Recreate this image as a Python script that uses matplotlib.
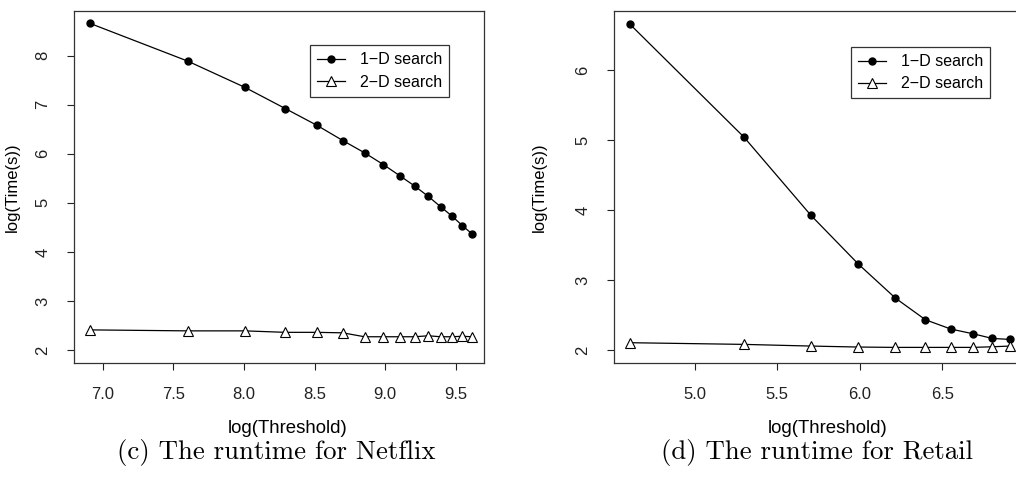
import numpy as np
import matplotlib
matplotlib.use("Agg")
import matplotlib.pyplot as plt

plt.rcParams['font.family'] = ['Liberation Sans', 'DejaVu Sans']

# Netflix: log(threshold) vs log(time)
netflix_x = [6.908, 7.601, 8.006, 8.294, 8.517, 8.700, 8.854, 8.987, 9.105,
             9.210, 9.306, 9.393, 9.473, 9.547, 9.616]
netflix_1d = [8.66, 7.89, 7.355, 6.92, 6.58, 6.27, 6.02, 5.78, 5.55,
              5.34, 5.13, 4.92, 4.73, 4.535, 4.365]
netflix_2d = [2.41, 2.39, 2.39, 2.36, 2.36, 2.35, 2.27, 2.27, 2.27,
              2.27, 2.29, 2.27, 2.27, 2.28, 2.27]

# Retail
retail_x = [4.605, 5.298, 5.704, 5.991, 6.215, 6.397, 6.551, 6.685, 6.802, 6.908]
retail_1d = [6.667, 5.048, 3.929, 3.233, 2.748, 2.438, 2.305, 2.238, 2.171, 2.157]
retail_2d = [2.11, 2.086, 2.062, 2.048, 2.043, 2.043, 2.043, 2.043, 2.052, 2.062]

W, H = 1016, 479
fig = plt.figure(figsize=(W / 100, H / 100), dpi=100)


def panel(rect, x, y1, y2, xlim, ylim, xticks, yticks, ylab_x, leg_anchor):
    ax = fig.add_axes(rect)
    ax.plot(x, y1, '-', color='black', lw=0.9, marker='o', ms=5,
            mfc='black', mec='black', label='1\u2212D search')
    ax.plot(x, y2, '-', color='black', lw=0.9, marker='^', ms=7,
            mfc='white', mec='black', mew=0.8, label='2\u2212D search')
    ax.set_xlim(*xlim)
    ax.set_ylim(*ylim)
    ax.set_xticks(xticks)
    ax.set_xticklabels(['%.1f' % t for t in xticks])
    ax.set_yticks(yticks)
    ax.set_yticklabels([str(t) for t in yticks], rotation=90, va='center')
    ax.tick_params(direction='out', length=5, width=0.8, labelsize=12,
                   colors='#222222')
    ax.tick_params(axis='x', pad=12)
    ax.tick_params(axis='y', pad=12)
    for s in ax.spines.values():
        s.set_linewidth(0.9)
        s.set_color('#333333')
    ax.set_xlabel('log(Threshold)', fontsize=13.4)
    ax.set_ylabel('log(Time(s))', fontsize=12)
    ax.xaxis.set_label_coords(0.52, -0.163)
    ax.yaxis.set_label_coords(ylab_x, 0.5)
    leg = ax.legend(loc='upper right', bbox_to_anchor=leg_anchor,
                    fontsize=11.5, fancybox=False, framealpha=1,
                    edgecolor='#333333', handlelength=1.75, handletextpad=0.9,
                    borderpad=0.45, labelspacing=0.45, borderaxespad=0)
    leg.get_frame().set_linewidth(0.9)
    return ax


panel([74 / W, 116 / H, 410 / W, 352 / H], netflix_x, netflix_1d, netflix_2d,
      (6.797, 9.70), (1.735, 8.91), [7.0, 7.5, 8.0, 8.5, 9.0, 9.5],
      [2, 3, 4, 5, 6, 7, 8], -0.132, (0.915, 0.903))

panel([614 / W, 116 / H, 411 / W, 352 / H], retail_x, retail_1d, retail_2d,
      (4.511, 7.0), (1.82, 6.85), [5.0, 5.5, 6.0, 6.5],
      [2, 3, 4, 5, 6], -0.163, (0.915, 0.898))

fig.text(276 / W, 1 - 453 / H, '(c) The runtime for Netflix',
         fontfamily='cmr10', fontsize=19.3, ha='center', va='center')
fig.text(817 / W, 1 - 453 / H, '(d) The runtime for Retail',
         fontfamily='cmr10', fontsize=19.3, ha='center', va='center')

fig.savefig('out.png', dpi=100)
